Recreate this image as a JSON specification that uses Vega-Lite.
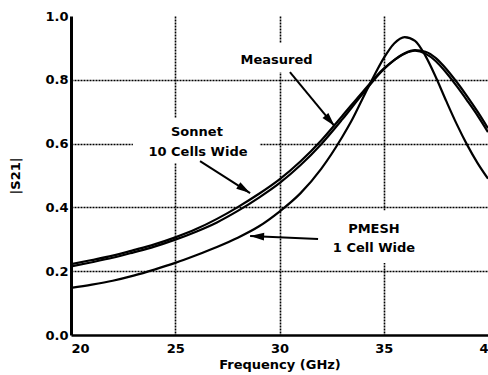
{
"$schema":"https://vega.github.io/schema/vega-lite/v6.json",
"width":417,"height":319,
"autosize":{"type":"none"},
"padding":{"left":71,"top":16,"right":0,"bottom":40},
"background":"white",
"config":{"view":{"stroke":null},"font":"DejaVu Sans"},
"datasets":{
"curves":[
{"series":"Measured","f":20,"s":0.215},{"series":"Measured","f":21,"s":0.228},{"series":"Measured","f":22,"s":0.242},{"series":"Measured","f":23,"s":0.259},{"series":"Measured","f":24,"s":0.277},{"series":"Measured","f":25,"s":0.299},{"series":"Measured","f":26,"s":0.324},{"series":"Measured","f":27,"s":0.353},{"series":"Measured","f":28,"s":0.389},{"series":"Measured","f":29,"s":0.43},{"series":"Measured","f":30,"s":0.476},{"series":"Measured","f":31,"s":0.532},{"series":"Measured","f":32,"s":0.598},{"series":"Measured","f":33,"s":0.675},{"series":"Measured","f":34,"s":0.757},{"series":"Measured","f":35,"s":0.833},{"series":"Measured","f":35.5,"s":0.862},{"series":"Measured","f":36,"s":0.883},{"series":"Measured","f":36.5,"s":0.893},{"series":"Measured","f":37,"s":0.888},{"series":"Measured","f":37.5,"s":0.868},{"series":"Measured","f":38,"s":0.834},{"series":"Measured","f":38.5,"s":0.793},{"series":"Measured","f":39,"s":0.748},{"series":"Measured","f":39.5,"s":0.7},{"series":"Measured","f":40,"s":0.648},
{"series":"Sonnet","f":20,"s":0.222},{"series":"Sonnet","f":21,"s":0.235},{"series":"Sonnet","f":22,"s":0.249},{"series":"Sonnet","f":23,"s":0.266},{"series":"Sonnet","f":24,"s":0.284},{"series":"Sonnet","f":25,"s":0.306},{"series":"Sonnet","f":26,"s":0.332},{"series":"Sonnet","f":27,"s":0.364},{"series":"Sonnet","f":28,"s":0.401},{"series":"Sonnet","f":29,"s":0.442},{"series":"Sonnet","f":30,"s":0.488},{"series":"Sonnet","f":31,"s":0.544},{"series":"Sonnet","f":32,"s":0.61},{"series":"Sonnet","f":33,"s":0.686},{"series":"Sonnet","f":34,"s":0.763},{"series":"Sonnet","f":35,"s":0.835},{"series":"Sonnet","f":35.5,"s":0.862},{"series":"Sonnet","f":36,"s":0.882},{"series":"Sonnet","f":36.5,"s":0.891},{"series":"Sonnet","f":37,"s":0.882},{"series":"Sonnet","f":37.5,"s":0.858},{"series":"Sonnet","f":38,"s":0.822},{"series":"Sonnet","f":38.5,"s":0.78},{"series":"Sonnet","f":39,"s":0.735},{"series":"Sonnet","f":39.5,"s":0.688},{"series":"Sonnet","f":40,"s":0.636},
{"series":"PMESH","f":20,"s":0.148},{"series":"PMESH","f":21,"s":0.158},{"series":"PMESH","f":22,"s":0.17},{"series":"PMESH","f":23,"s":0.186},{"series":"PMESH","f":24,"s":0.205},{"series":"PMESH","f":25,"s":0.226},{"series":"PMESH","f":26,"s":0.25},{"series":"PMESH","f":27,"s":0.276},{"series":"PMESH","f":28,"s":0.305},{"series":"PMESH","f":29,"s":0.34},{"series":"PMESH","f":30,"s":0.387},{"series":"PMESH","f":31,"s":0.444},{"series":"PMESH","f":32,"s":0.521},{"series":"PMESH","f":33,"s":0.62},{"series":"PMESH","f":33.5,"s":0.677},{"series":"PMESH","f":34,"s":0.743},{"series":"PMESH","f":34.5,"s":0.808},{"series":"PMESH","f":35,"s":0.868},{"series":"PMESH","f":35.5,"s":0.914},{"series":"PMESH","f":36,"s":0.934},{"series":"PMESH","f":36.5,"s":0.922},{"series":"PMESH","f":37,"s":0.875},{"series":"PMESH","f":37.5,"s":0.808},{"series":"PMESH","f":38,"s":0.733},{"series":"PMESH","f":38.5,"s":0.661},{"series":"PMESH","f":39,"s":0.596},{"series":"PMESH","f":39.5,"s":0.539},{"series":"PMESH","f":40,"s":0.49}
],
"labels":[
{"t":"Measured","f":29.86,"s":0.862},
{"t":"Sonnet","f":26.04,"s":0.636},
{"t":"10 Cells Wide","f":26.09,"s":0.574},
{"t":"PMESH","f":34.53,"s":0.332},
{"t":"1 Cell Wide","f":34.53,"s":0.273}
],
"arrows":[
{"name":"Measured","f":30.5,"s":0.824,"f2":32.64,"s2":0.655},
{"name":"Sonnet","f":26.19,"s":0.545,"f2":28.59,"s2":0.445},
{"name":"PMESH","f":31.85,"s":0.301,"f2":28.59,"s2":0.31}
],
"boxes":[
{"f":27.9,"f2":31.75,"s":0.824,"s2":0.915},
{"f":22.97,"f2":29.06,"s":0.539,"s2":0.68},
{"f":32.3,"f2":36.75,"s":0.226,"s2":0.39}
]
},
"layer":[
{"data":{"name":"boxes"},"mark":{"type":"rect","fill":"white","strokeWidth":0},
 "encoding":{
  "x":{"field":"f","type":"quantitative","scale":{"domain":[20,40],"nice":false,"zero":false}},
  "x2":{"field":"f2"},
  "y":{"field":"s","type":"quantitative","scale":{"domain":[0,1],"nice":false,"zero":false}},
  "y2":{"field":"s2"}}},
{"data":{"name":"curves"},"mark":{"type":"line","color":"black","strokeWidth":2.2,"interpolate":"monotone"},
 "encoding":{
  "x":{"field":"f","type":"quantitative","scale":{"domain":[20,40],"nice":false,"zero":false},
   "axis":{"title":"Frequency (GHz)","values":[20,25,30,35,40],"format":"d","labelFlush":false,
    "labelAlign":{"condition":{"test":"datum.value == 20","value":"left"},"value":"center"},
    "labelFont":"DejaVu Sans","labelFontSize":13,"labelFontWeight":"bold","labelColor":"black","labelPadding":7,
    "ticks":false,"domainColor":"black","domainWidth":2.5,
    "grid":true,"gridColor":{"condition":{"test":"datum.value == 20 || datum.value == 40","value":"transparent"},"value":"black"},
    "gridDash":[2,1],"gridWidth":1.6,"gridOpacity":1,
    "titleFont":"DejaVu Sans","titleFontSize":13,"titleFontWeight":"bold","titleColor":"black","titlePadding":3}},
  "y":{"field":"s","type":"quantitative","scale":{"domain":[0,1],"nice":false,"zero":false},
   "axis":{"title":"|S21|","values":[0,0.2,0.4,0.6,0.8,1],"format":".1f",
    "labelFont":"DejaVu Sans","labelFontSize":13,"labelFontWeight":"bold","labelColor":"black","labelPadding":3,
    "ticks":false,"domainColor":"black","domainWidth":3,
    "grid":true,"gridColor":{"condition":{"test":"datum.value == 0 || datum.value == 1","value":"transparent"},"value":"black"},
    "gridDash":[2,1],"gridWidth":1.6,"gridOpacity":1,
    "titleFont":"DejaVu Sans","titleFontSize":13,"titleFontWeight":"bold","titleColor":"black","titlePadding":22}},
  "detail":{"field":"series"}}},
{"mark":{"type":"rule","color":"black","strokeWidth":2.5},
 "encoding":{"y":{"datum":1,"type":"quantitative","scale":{"domain":[0,1],"nice":false,"zero":false}}}},
{"data":{"name":"arrows"},"mark":{"type":"rule","color":"black","strokeWidth":2},
 "encoding":{
  "x":{"field":"f","type":"quantitative","scale":{"domain":[20,40],"nice":false,"zero":false}},
  "x2":{"field":"f2"},
  "y":{"field":"s","type":"quantitative","scale":{"domain":[0,1],"nice":false,"zero":false}},
  "y2":{"field":"s2"}}},
{"data":{"name":"arrows"},"transform":[{"filter":"datum.name == 'Measured'"}],
 "mark":{"type":"point","shape":"M0,0L0.55,2L-0.55,2Z","filled":true,"color":"black","opacity":1,"size":196,"angle":139.5,"strokeWidth":0},
 "encoding":{"x":{"field":"f2","type":"quantitative","scale":{"domain":[20,40],"nice":false,"zero":false}},"y":{"field":"s2","type":"quantitative","scale":{"domain":[0,1],"nice":false,"zero":false}}}},
{"data":{"name":"arrows"},"transform":[{"filter":"datum.name == 'Sonnet'"}],
 "mark":{"type":"point","shape":"M0,0L0.55,2L-0.55,2Z","filled":true,"color":"black","opacity":1,"size":196,"angle":122.6,"strokeWidth":0},
 "encoding":{"x":{"field":"f2","type":"quantitative","scale":{"domain":[20,40],"nice":false,"zero":false}},"y":{"field":"s2","type":"quantitative","scale":{"domain":[0,1],"nice":false,"zero":false}}}},
{"data":{"name":"arrows"},"transform":[{"filter":"datum.name == 'PMESH'"}],
 "mark":{"type":"point","shape":"M0,0L0.55,2L-0.55,2Z","filled":true,"color":"black","opacity":1,"size":196,"angle":272.5,"strokeWidth":0},
 "encoding":{"x":{"field":"f2","type":"quantitative","scale":{"domain":[20,40],"nice":false,"zero":false}},"y":{"field":"s2","type":"quantitative","scale":{"domain":[0,1],"nice":false,"zero":false}}}},
{"data":{"name":"labels"},"mark":{"type":"text","font":"DejaVu Sans","fontSize":13,"fontWeight":"bold","color":"black","align":"center","baseline":"middle"},
 "encoding":{
  "x":{"field":"f","type":"quantitative","scale":{"domain":[20,40],"nice":false,"zero":false}},
  "y":{"field":"s","type":"quantitative","scale":{"domain":[0,1],"nice":false,"zero":false}},
  "text":{"field":"t"}}}
]
}
